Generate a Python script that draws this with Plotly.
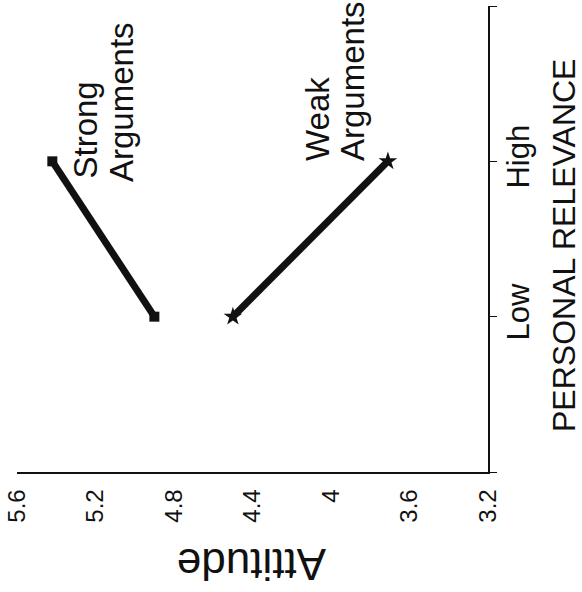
import plotly.graph_objects as go

relevance_levels = [1, 2]
relevance_labels = ["Low", "High"]
strong_attitude = [4.90, 5.42]
weak_attitude = [4.50, 3.71]
attitude_ticks = [5.6, 5.2, 4.8, 4.4, 4.0, 3.6, 3.2]
attitude_ticktext = ["5.6", "5.2", "4.8", "4.4", "4", "3.6", "3.2"]

FONT = "Liberation Sans, Arial, Helvetica, sans-serif"
W, H = 582, 592
L, R, T, B = 17, 94, 6, 120
PW, PH = W - L - R, H - T - B

def px(x):
    return (x - L) / PW

def py(y):
    return (H - B - y) / PH

fig = go.Figure()
fig.add_trace(go.Scatter(
    x=strong_attitude, y=relevance_levels, mode="lines+markers",
    line=dict(color="#111", width=7),
    marker=dict(symbol="square", size=10, color="#111"),
    showlegend=False))
fig.add_trace(go.Scatter(
    x=weak_attitude, y=relevance_levels, mode="lines+markers",
    line=dict(color="#111", width=7),
    marker=dict(symbol="star", size=14, color="#111"),
    showlegend=False))

annots = [
    dict(text="Strong", x=px(85), y=py(181), size=33, angle=-90, xa="center", ya="bottom"),
    dict(text="Arguments", x=px(122), y=py(184), size=33, angle=-90, xa="center", ya="bottom"),
    dict(text="Weak", x=px(317), y=py(163), size=33, angle=-90, xa="center", ya="bottom"),
    dict(text="Arguments", x=px(352), y=py(163), size=33, angle=-90, xa="center", ya="bottom"),
    dict(text="Attitude", x=px(252), y=py(565), size=44, angle=180, xa="center", ya="middle"),
    dict(text="PERSONAL RELEVANCE", x=px(564), y=py(246), size=32, angle=-90, xa="center", ya="middle"),
]
for a in annots:
    fig.add_annotation(text=a["text"], x=a["x"], y=a["y"], xref="paper", yref="paper",
                       showarrow=False, textangle=a["angle"], xanchor=a["xa"], yanchor=a["ya"],
                       font=dict(family=FONT, size=a["size"], color="#111"))

fig.update_xaxes(
    range=[5.6, 3.2], tickvals=attitude_ticks, ticktext=attitude_ticktext,
    tickangle=-90, tickfont=dict(family=FONT, size=24, color="#111"),
    showline=True, linecolor="#111", linewidth=1.5, showgrid=False, zeroline=False,
    ticks="", mirror=False, ticklabelstandoff=6, automargin=False)
fig.update_yaxes(
    range=[0, 3], side="right", tickvals=[0] + relevance_levels + [3],
    ticktext=[""] + relevance_labels + [""],
    tickangle=-90, tickfont=dict(family=FONT, size=31, color="#111"),
    ticks="outside", ticklen=7, tickcolor="#111", tickwidth=1,
    showline=True, linecolor="#111", linewidth=1.5, showgrid=False, zeroline=False,
    ticklabelstandoff=-5, automargin=False)

fig.update_layout(
    width=W, height=H, margin=dict(l=L, r=R, t=T, b=B),
    plot_bgcolor="white", paper_bgcolor="white",
    font=dict(family=FONT, color="#111"))

fig.write_html("out.html", config={"displayModeBar": False},
               post_script="document.body.style.margin='0';document.body.style.padding='0';")
